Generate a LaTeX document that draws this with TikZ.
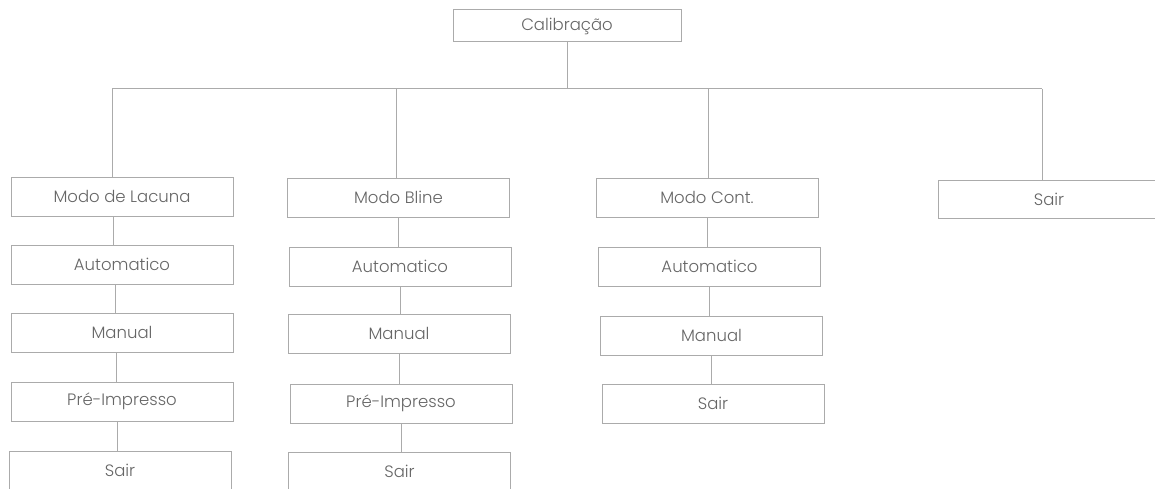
\documentclass[tikz,border=0pt]{standalone}
\usepackage{fontspec}
\setmainfont{Poppins Light}
\usepackage{xcolor}
\definecolor{BoxGrey}{HTML}{ABABAB}
\definecolor{TextGrey}{HTML}{666666}
\usepackage{tikz}
\usetikzlibrary{positioning}
\tikzstyle{menubox} = [rectangle, draw=BoxGrey, fill=white, text=TextGrey, minimum width=222pt, minimum height=39pt, inner sep=0pt, outer sep=0pt, text centered, line width=1pt, font=\fontsize{16.5}{19}\selectfont]
\tikzstyle{line} = [-,color=BoxGrey,line width=1pt]

\begin{document}
\begin{tikzpicture}[x=1pt, y=-1pt, node distance=29pt]
        \clip (0,0) rectangle (1155,489);
        \fill[white] (0,0) rectangle (1155,489);
        % Root
        \node [menubox, minimum width=228pt, minimum height=32pt] (calib) at (567,26) {Calibração};

        % First level
        \node [menubox] (lacuna) at (122,196.5) {Modo de Lacuna};
        \node [menubox] (bline) at (398.5,197.5) {Modo Bline};
        \node [menubox] (cont) at (707,197.5) {Modo Cont.};
        \node [menubox, minimum height=38pt] (sairTop) at (1049,199) {Sair};

        % Modo de Lacuna column
        \node [menubox, below=of lacuna] (autoLac) {Automatico};
        \node [menubox, below=of autoLac] (manLac) {Manual};
        \node [menubox, below=30pt of manLac] (preLac) {Pré-Impresso};
        \node [menubox, below=30pt of preLac, xshift=-2pt] (sairLac) {Sair};

        % Modo Bline column
        \node [menubox, below=30pt of bline, xshift=1.5pt] (autoBli) {Automatico};
        \node [menubox, below=28pt of autoBli, xshift=-1pt] (manBli) {Manual};
        \node [menubox, below=31pt of manBli, xshift=2pt] (preBli) {Pré-Impresso};
        \node [menubox, below=of preBli, xshift=-1.5pt] (sairBli) {Sair};

        % Modo Cont. column
        \node [menubox, below=30pt of cont, xshift=2.5pt] (autoCon) {Automatico};
        \node [menubox, below=30pt of autoCon, xshift=2pt] (manCon) {Manual};
        \node [menubox, below=of manCon, xshift=1.5pt] (sairCon) {Sair};

        % Bus coordinates
        \coordinate (bus1) at (112,89);
        \coordinate (bus2) at (396,89);
        \coordinate (bus3) at (708,89);
        \coordinate (bus4) at (1042,89);

        % Connect nodes
        \draw [line] (calib.south) -- (calib.south |- bus1);
        \draw [line] (bus1) -- (bus4);
        \draw [line] (bus1) -- (bus1 |- lacuna.north);
        \draw [line] (bus2) -- (bus2 |- bline.north);
        \draw [line] (bus3) -- (bus3 |- cont.north);
        \draw [line] (bus4) -- (bus4 |- sairTop.north);

        \draw [line] ([xshift=-9pt]lacuna.south) -- ([xshift=-9pt]lacuna.south |- autoLac.north);
        \draw [line] ([xshift=-7pt]autoLac.south) -- ([xshift=-7pt]autoLac.south |- manLac.north);
        \draw [line] ([xshift=-6pt]manLac.south) -- ([xshift=-6pt]manLac.south |- preLac.north);
        \draw [line] ([xshift=-5pt]preLac.south) -- ([xshift=-5pt]preLac.south |- sairLac.north);

        \draw [line] (bline.south) -- (bline.south |- autoBli.north);
        \draw [line] (autoBli.south) -- (autoBli.south |- manBli.north);
        \draw [line] (manBli.south) -- (manBli.south |- preBli.north);
        \draw [line] (preBli.south) -- (preBli.south |- sairBli.north);

        \draw [line] (cont.south) -- (cont.south |- autoCon.north);
        \draw [line] (autoCon.south) -- (autoCon.south |- manCon.north);
        \draw [line] (manCon.south) -- (manCon.south |- sairCon.north);
    \end{tikzpicture}
\end{document}
